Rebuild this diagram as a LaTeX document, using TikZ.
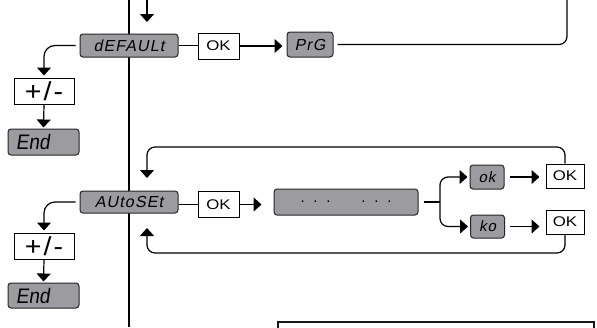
\documentclass[tikz,border=0pt]{standalone}
\usepackage{fontspec}
\setmainfont{Liberation Sans}
\newfontfamily\lcdfont[FakeSlant=0.2,LetterSpace=7]{Liberation Sans}
\newfontfamily\lcdend[FakeSlant=0.15,FakeStretch=0.9]{Liberation Sans}
\newfontfamily\okfont[FakeStretch=1.2]{Liberation Sans}
\newfontfamily\pmfont[FakeStretch=1.1,LetterSpace=8]{Liberation Sans}
\usetikzlibrary{arrows.meta}
\definecolor{lcdgray}{RGB}{155,155,160}
\begin{document}
\begin{tikzpicture}[x=1pt,y=-1pt,
  line width=1.2pt,
  lcd/.style={draw=black!85, fill=lcdgray, rounded corners=3pt, line width=1pt,
    minimum height=23pt, inner sep=0pt, font=\lcdfont\fontsize{16}{16}\selectfont},
  okbox/.style={draw, fill=white, line width=1pt, minimum width=41pt, minimum height=26pt,
    inner sep=0pt, font=\okfont\fontsize{14}{14}\selectfont},
  pmbox/.style={draw, fill=white, line width=1pt, minimum width=60pt, minimum height=26pt,
    inner sep=0pt, font=\pmfont\fontsize{26}{26}\selectfont},
  endbox/.style={lcd, minimum height=26pt, text width=55pt, align=left, inner xsep=8pt,
    font=\lcdend\fontsize{21}{21}\selectfont},
  arr/.style={-{Triangle[length=8pt,width=14pt]}},
]
\useasboundingbox (0,0) rectangle (597,327);
\clip (0,0) rectangle (597,327);

% main vertical line
\coordinate (vtop) at (129,0);
\coordinate (vbot) at (129,327);
\draw[line width=1.4pt] (vtop) -- (vbot);

% ---------- upper section ----------
\node[lcd, minimum width=98pt] (def) at (129,45.5) {dEFAULt};
\node[okbox] (ok1) at (218.5,46) {OK};
\node[lcd, minimum width=46pt, minimum height=25pt] (prg) at (310,44.5) {PrG};
\node[pmbox] (pm1) at (44,91) {+/-};
\node[endbox] (end1) at (43.5,142) {End};

\coordinate (t0) at (147,0);
\coordinate (t1) at (147,22);
\draw[arr] (t0) -- (t1);

\coordinate (tr) at (567,0);
\draw (def.east) -- (def.east -| ok1.west);
\draw[arr, shorten >=4pt] (ok1.east) -- (ok1.east -| prg.west);
\draw[rounded corners=8pt] ([xshift=4pt]prg.east) -| (tr);
\draw[arr, rounded corners=11pt] ([xshift=-4pt]def.west) -| ([yshift=2pt]pm1.north);
\draw[arr] (pm1.south) -- ([yshift=1pt]end1.north);

% ---------- lower section ----------
\node[lcd, minimum width=98pt, minimum height=22pt] (aut) at (129,202) {AUtoSEt};
\node[okbox] (ok2) at (218.5,204.5) {OK};
\node[lcd, minimum width=144pt, minimum height=26pt, font=\fontsize{15}{15}\selectfont] (dots) at (346,202)
  {.\hspace{8.8pt}.\hspace{8.8pt}.\hspace{30.8pt}.\hspace{8.8pt}.\hspace{8.8pt}.};
\node[lcd, minimum width=34pt, minimum height=24pt, font=\lcdfont\fontsize{15}{15}\selectfont] (okd) at (487,177) {ok};
\node[lcd, minimum width=34pt, minimum height=23pt, font=\lcdfont\fontsize{15}{15}\selectfont] (kod) at (487.5,226.5) {ko};
\node[okbox, minimum width=38pt, minimum height=24pt] (ok3) at (565,176) {OK};
\node[okbox, minimum width=38pt, minimum height=24pt] (ok4) at (565,222) {OK};
\node[pmbox] (pm2) at (44,246) {+/-};
\node[endbox, minimum height=25pt] (end2) at (43.5,295.5) {End};

\draw (ok2.west -| aut.east) -- (ok2.west);
\draw[arr, shorten >=12pt] (ok2.east) -- (ok2.east -| dots.west);
\coordinate (br) at (440,202);
\draw ([xshift=5pt]dots.east) -- (br);
\draw[arr, rounded corners=8pt] (br) |- ([xshift=-2pt]okd.west);
\draw[arr, rounded corners=8pt] (br) |- ([xshift=-2pt]kod.west);
\draw[arr, shorten <=5pt, shorten >=6pt] (okd.east) -- (okd.east -| ok3.west);
\draw[arr, shorten <=5pt, shorten >=6pt] (kod.east) -- (kod.east -| ok4.west);

\coordinate (lc) at (147,147);
\coordinate (lt) at (147,178);
\draw[arr, rounded corners=8pt] (ok3.north) |- (lc) -- (lt);
\coordinate (lb) at (147,253);
\coordinate (ltb) at (147,228);
\draw[arr, rounded corners=8pt] (ok4.south) |- (lb) -- (ltb);

\draw[arr, rounded corners=11pt] ([xshift=-4pt]aut.west) -| ([yshift=2pt]pm2.north);
\draw[arr] (pm2.south) -- ([yshift=1pt]end2.north);

% bottom frame (cut by the page edge)
\coordinate (fa) at (278,322);
\coordinate (fb) at (594,345);
\draw[line width=2pt, black!90] (fa) rectangle (fb);
\end{tikzpicture}
\end{document}
